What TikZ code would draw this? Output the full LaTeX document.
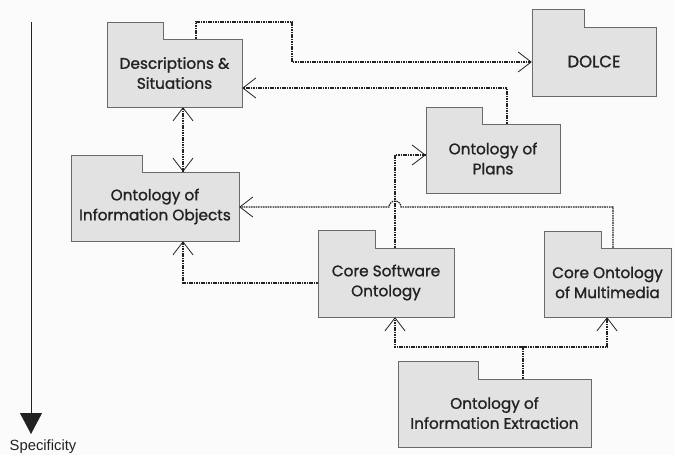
\documentclass[tikz,border=0pt]{standalone}
\usepackage{fontspec}
\setmainfont{Poppins}
\newfontfamily\pkgfont{Poppins}[FakeBold=1.2]
\newfontfamily\axisfont{Liberation Sans}
\usetikzlibrary{arrows.meta}
\definecolor{pkgfill}{HTML}{E2E2E2}
\definecolor{pkgline}{HTML}{6A6A6A}
\definecolor{inkdark}{HTML}{222222}
\definecolor{paper}{HTML}{FBFBFB}
\tikzset{
  pkg/.style={fill=pkgfill, draw=pkgline, line width=0.8pt},
  pkgtext/.style={inner sep=0pt, align=center, text=inkdark,
    font=\pkgfont\fontsize{15.3}{20}\selectfont},
  tipV/.tip={Straight Barb[length=13pt, width=20pt, line width=0.8pt]},
  depline/.style={draw=inkdark, line width=1.1pt, dash pattern=on 1.6pt off 0.8pt},
  dep/.style={depline, -tipV},
  deptwo/.style={depline, tipV-tipV},
}
% #1 name, #2 left, #3 tab top, #4 tab right, #5 body top, #6 right, #7 bottom, #8 label
\newcommand\pkgbox[8]{%
  \draw[pkg] (#2,#7) -- (#2,#3) -- (#4,#3) -- (#4,#5) -- (#6,#5) -- (#6,#7) -- cycle;
  \node[pkgtext, minimum width={(#6-#2)*1pt}, minimum height={(#7-#5)*1pt}]
    (#1) at ({(#2+#6)/2},{(#5+#7)/2}) {#8};
}
\begin{document}
\begin{tikzpicture}[x=1pt, y=-1pt]
  \fill[paper] (0,0) rectangle (674,455);
  \useasboundingbox (0,0) rectangle (674,455);

  % specificity axis
  \coordinate (axtop) at (31,22);
  \coordinate (axbot) at (31,434);
  \draw[inkdark, line width=0.8pt, -{Triangle[length=21pt, width=22pt]}] (axtop) -- (axbot);
  \node[text=inkdark, font=\axisfont\fontsize{14.8}{17}\selectfont] (spec) at (43,447) {Specificity};

  % packages
  \pkgbox{ds}{107}{22}{163}{39}{242}{107}{Descriptions \&\\Situations}
  \pkgbox{dolce}{532}{9}{584}{27}{656}{96}{\fontsize{16.5}{20}\selectfont DOLCE}
  \pkgbox{plans}{426}{107}{482}{124}{560}{193}{Ontology of\\Plans}
  \pkgbox{oio}{71}{155}{142}{172}{239}{241}{Ontology of\\Information Objects}
  \pkgbox{cso}{318}{230}{375}{248}{454}{317}{Core Software\\Ontology}
  \pkgbox{cmm}{544}{231}{601}{248}{671}{317}{Core Ontology\\of Multimedia}
  \pkgbox{oie}{398}{361}{478}{379}{591}{447}{Ontology of\\Information Extraction}

  % dependencies
  \draw[dep] (196,0 |- ds.north) -- (196,22) -| (292,62) -- (dolce.west |- 0,62);
  \draw[dep] (507,0 |- plans.north) -- (507,88) -- (ds.east |- 0,88);
  \draw[deptwo] (183,0 |- ds.south) -- (183,0 |- oio.north);
  \draw[dep] (395,0 |- cso.north) -- (395,155) -- (plans.west |- 0,155);
  \draw[dep] (613,0 |- cmm.north) -- (613,207) -- (401,207)
     arc[start angle=0, end angle=-180, radius=6] -- (oio.east |- 0,207);
  \draw[dep] (cso.west |- 0,283) -| (183,0 |- oio.south);
  \coordinate (fork) at (523,347);
  \draw[depline] (523,0 |- oie.north) -- (fork);
  \draw[dep] (fork) -| (395,0 |- cso.south);
  \draw[dep] (fork) -| (607,0 |- cmm.south);
\end{tikzpicture}
\end{document}
